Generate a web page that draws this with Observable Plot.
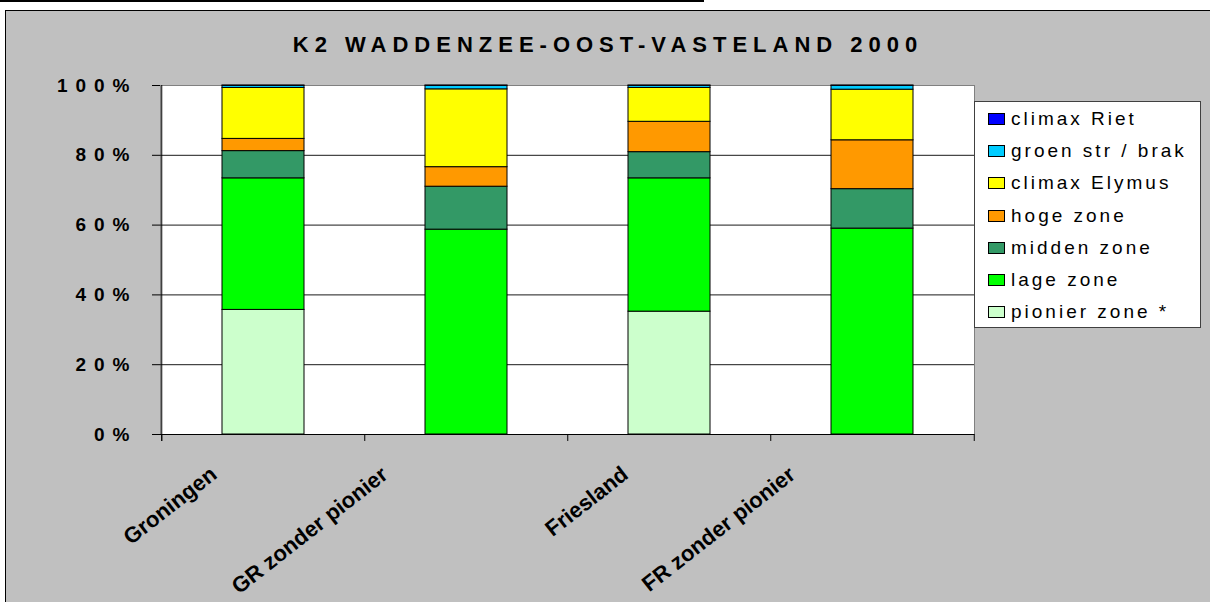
<!DOCTYPE html>
<html><head><meta charset="utf-8">
<script src="https://cdn.jsdelivr.net/npm/d3@7"></script>
<script src="https://cdn.jsdelivr.net/npm/@observablehq/plot@0.6"></script>
<style>
html,body{margin:0;padding:0;}
body{width:1210px;height:602px;overflow:hidden;position:relative;background:#fff;font-family:'Liberation Sans',Arial,sans-serif;}
#topline{position:absolute;left:0;top:0;width:704px;height:2px;background:#000;}
#bg{position:absolute;left:5px;top:10px;width:1205px;height:592px;background:#C0C0C0;border-left:1px solid #000;border-top:1px solid #000;box-sizing:border-box;}
#chart{position:absolute;left:0;top:0;}
#title{position:absolute;left:0;top:32px;width:1210px;text-align:center;font-weight:bold;font-size:22px;letter-spacing:6px;padding-left:6px;box-sizing:border-box;color:#000;white-space:nowrap;}
#legend{position:absolute;left:974px;top:101px;width:227px;height:227px;background:#fff;border:1px solid #404040;box-sizing:border-box;padding-top:1px;}
.item{height:32.2px;display:flex;align-items:center;padding-left:13px;}
.sw{width:17px;height:12px;border:1px solid #000;box-sizing:border-box;margin-right:6px;flex:none;}
.lab{font-size:19px;letter-spacing:3px;color:#000;white-space:nowrap;}
</style></head>
<body>
<div id="topline"></div>
<div id="bg"></div>
<div id="chart"></div>
<div id="title"></div>
<div id="legend"></div>
<script>
const titleText = "K2 WADDENZEE-OOST-VASTELAND 2000";
const categories = ["Groningen", "GR zonder pionier", "Friesland", "FR zonder pionier"];
const series = ["pionier zone *", "lage zone", "midden zone", "hoge zone", "climax Elymus", "groen str / brak", "climax Riet"];
const pionier = [35.7, 0, 35.2, 0];
const lage    = [37.7, 58.7, 38.2, 59.0];
const midden  = [7.8, 12.3, 7.5, 11.3];
const hoge    = [3.5, 5.6, 8.7, 14.0];
const elymus  = [14.6, 22.3, 9.7, 14.5];
const groen   = [0.6, 1.0, 0.6, 1.1];
const riet    = [0.1, 0.1, 0.1, 0.1];
const colors  = ["#CCFFCC", "#00FF00", "#339966", "#FF9900", "#FFFF00", "#00CCFF", "#0000FF"];
const yTicks  = [0, 20, 40, 60, 80, 100];

const values = [pionier, lage, midden, hoge, elymus, groen, riet];
const data = [];
categories.forEach((c, i) => series.forEach((s, j) => data.push({cat: c, series: s, value: values[j][i]})));

const W = 1210, H = 602, mL = 160, mR = 236, mT = 85, mB = 168;
const step = (W - mL - mR) / categories.length;

const plot = Plot.plot({
  width: W, height: H,
  marginLeft: mL, marginRight: mR, marginTop: mT, marginBottom: mB,
  style: {background: "transparent", fontFamily: "'Liberation Sans', Arial, sans-serif", color: "black", overflow: "visible"},
  x: {domain: categories, paddingInner: 0.597, paddingOuter: 0.2985, align: 0.5, label: null},
  y: {domain: [0, 100], label: null},
  color: {domain: series, range: colors},
  marks: [
    Plot.frame({fill: "white", stroke: "#808080"}),
    Plot.ruleY(yTicks.filter(d => d > 0 && d < 100), {stroke: "#1a1a1a", strokeWidth: 1}),
    Plot.barY(data, {x: "cat", y: "value", fill: "series", stroke: "black", strokeWidth: 1}),
    Plot.ruleY([0], {stroke: "black"}),
    Plot.ruleX([categories[0]], {x: d => d, dx: -step / 2, y1: -2, y2: 100, stroke: "black"}),
    Plot.ruleX(categories, {x: d => d, dx: -step / 2, y1: 0, y2: -2, stroke: "black"}),
    Plot.ruleX([categories[categories.length - 1]], {x: d => d, dx: step / 2, y1: 0, y2: -2, stroke: "black"}),
    Plot.axisY({ticks: yTicks, tickFormat: d => d + "%", tickSize: 8, tickPadding: 15, fontSize: 19, fontWeight: "bold", label: null, stroke: "black"}),
    Plot.axisX({tickSize: 0, tickRotate: -38, textAnchor: "end", fontSize: 22, fontWeight: "bold", label: null})
  ]
});
document.getElementById("chart").append(plot);

// letter spacing on y tick labels
d3.select(plot).selectAll('g[aria-label="y-axis tick label"] text').style("letter-spacing", "8px");

// place rotated x labels like the original (end shifted left proportionally to label length)
const rects = Array.from(plot.querySelectorAll('g[aria-label="bar"] rect'));
const centers = Array.from(new Set(rects.map(r => { const b = r.getBoundingClientRect(); return Math.round((b.left + b.width / 2) * 10) / 10; }))).sort((a, b) => a - b);
let xt = Array.from(plot.querySelectorAll('g[aria-label="x-axis tick label"] text'));
if (!xt.length) xt = Array.from(plot.querySelectorAll('g[aria-label^="x-axis"] text'));
xt.forEach((t, i) => {
  const L = t.getComputedTextLength();
  const b = t.getBoundingClientRect();
  const c = centers[i] !== undefined ? centers[i] : (b.right - 2.9);
  const sx = (c - 0.4 * L + 2.9) - b.right;
  const sy = 461.3 - b.top;
  t.setAttribute("transform", `translate(${sx},${sy}) ` + (t.getAttribute("transform") || ""));
});

// title
document.getElementById("title").textContent = titleText;

// legend
const legend = document.getElementById("legend");
series.slice().reverse().forEach(s => {
  const item = document.createElement("div");
  item.className = "item";
  const sw = document.createElement("div");
  sw.className = "sw";
  sw.style.background = colors[series.indexOf(s)];
  const lab = document.createElement("span");
  lab.className = "lab";
  lab.textContent = s;
  item.append(sw, lab);
  legend.append(item);
});
</script>
</body></html>
